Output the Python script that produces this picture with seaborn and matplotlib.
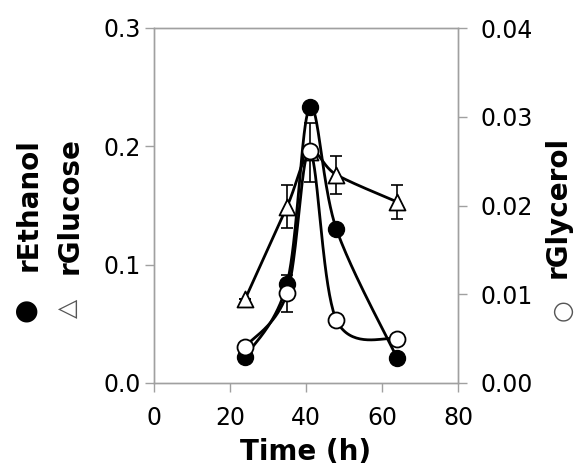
import numpy as np
import pandas as pd
import matplotlib
matplotlib.use("Agg")
import matplotlib.pyplot as plt
import seaborn as sns

# time points (h)
time_h = [24, 35, 41, 48, 64]
# left axis
ethanol = [0.022, 0.084, 0.233, 0.130, 0.021]
glucose = [0.071, 0.149, 0.195, 0.176, 0.153]
glucose_err = [0.0, 0.018, 0.025, 0.016, 0.014]
# right axis
glycerol = [0.0041, 0.0101, 0.0261, 0.0071, 0.0050]
glycerol_err = [0.0, 0.0021, 0.0, 0.0, 0.0]

sns.set_theme(style="ticks")
plt.rcParams["font.family"] = ["DejaVu Sans"]
plt.rcParams["text.color"] = "black"
plt.rcParams["axes.labelcolor"] = "black"

fig = plt.figure(figsize=(5.74, 4.72), dpi=100)
ax = fig.add_axes([154 / 574, 1 - 383 / 472, 304 / 574, 355 / 472])
ax2 = ax.twinx()

XMAX, Y1MAX, Y2MAX = 80, 0.3, 0.04
PX_W, PX_H = 304, 355


def smooth(xs, ys, ymax, n=40):
    # excel-like smoothed line (catmull-rom in screen space)
    p = np.column_stack([np.asarray(xs) / XMAX * PX_W, np.asarray(ys) / ymax * PX_H])
    p = np.vstack([p[0], p, p[-1]])
    out = []
    for i in range(1, len(p) - 2):
        p0, p1, p2, p3 = p[i - 1], p[i], p[i + 1], p[i + 2]
        c1 = p1 + (p2 - p0) / 6
        c2 = p2 - (p3 - p1) / 6
        t = np.linspace(0, 1, n)[:, None]
        seg = (1 - t) ** 3 * p1 + 3 * (1 - t) ** 2 * t * c1 + 3 * (1 - t) * t ** 2 * c2 + t ** 3 * p2
        out.append(seg if i == 1 else seg[1:])
    out = np.vstack(out)
    return out[:, 0] / PX_W * XMAX, out[:, 1] / PX_H * ymax


lw = 2.0
ms = 11.5

# glucose
gx, gy = smooth(time_h, glucose, Y1MAX)
ax.plot(gx, gy, color="black", lw=lw, zorder=2)
ax.errorbar(time_h, glucose, yerr=glucose_err, fmt="none", ecolor="black",
            elinewidth=1.2, capsize=4, capthick=1.2, zorder=3)
sns.scatterplot(x=time_h, y=glucose, ax=ax, marker="^", s=ms ** 2, color="white",
                edgecolor="black", linewidth=1.3, zorder=4, legend=False)

# ethanol
ex, ey = smooth(time_h, ethanol, Y1MAX)
ax.plot(ex, ey, color="black", lw=lw, zorder=2)
sns.scatterplot(x=time_h, y=ethanol, ax=ax, marker="o", s=ms ** 2, color="black",
                edgecolor="black", linewidth=1.0, zorder=5, legend=False)

# glycerol
cx, cy = smooth(time_h, glycerol, Y2MAX)
ax2.plot(cx, cy, color="black", lw=lw, zorder=2)
ax2.errorbar(time_h, glycerol, yerr=glycerol_err, fmt="none", ecolor="black",
             elinewidth=1.2, capsize=4, capthick=1.2, zorder=3)
sns.scatterplot(x=time_h, y=glycerol, ax=ax2, marker="o", s=ms ** 2, color="white",
                edgecolor="black", linewidth=1.3, zorder=4, legend=False)

ax.set_xlim(0, XMAX)
ax.set_ylim(0, Y1MAX)
ax2.set_ylim(0, Y2MAX)
ax.set_xticks([0, 20, 40, 60, 80])
ax.set_yticks([0, 0.1, 0.2, 0.3])
ax.set_yticklabels(["0.0", "0.1", "0.2", "0.3"])
ax2.set_yticks([0, 0.01, 0.02, 0.03, 0.04])
ax2.set_yticklabels(["0.00", "0.01", "0.02", "0.03", "0.04"])

grey = "#a0a0a0"
for a in (ax, ax2):
    for s in a.spines.values():
        s.set_color(grey)
        s.set_linewidth(1.0)
        s.set_visible(True)
ax.tick_params(axis="x", direction="out", length=6.5, width=1.0, color=grey,
               labelsize=17, pad=10, labelcolor="black")
ax.tick_params(axis="y", direction="out", length=6.5, width=1.0, color=grey,
               labelsize=17, pad=3, labelcolor="black")
ax2.tick_params(axis="y", direction="out", length=6.5, width=1.0, color=grey,
                labelsize=17, pad=10, labelcolor="black")

ax.set_xlabel("Time (h)", fontsize=20, fontweight="bold", labelpad=6, color="black")

# y axis titles with symbols
fig.text(29 / 574, 1 - 205 / 472, "rEthanol", rotation=90, fontsize=20,
         fontweight="bold", ha="center", va="center", color="black")
fig.text(70 / 574, 1 - 206 / 472, "rGlucose", rotation=90, fontsize=20,
         fontweight="bold", ha="center", va="center", color="black")
fig.text(558 / 574, 1 - 207 / 472, "rGlycerol", rotation=90, fontsize=20,
         fontweight="bold", ha="center", va="center", color="black")
fig.text(25 / 574, 1 - 310 / 472, "●", rotation=90, fontsize=20,
         ha="center", va="center", color="black")
fig.text(68 / 574, 1 - 308 / 472, "△", rotation=90, fontsize=18, color="#555555",
         ha="center", va="center")
fig.text(562 / 574, 1 - 310 / 472, "○", rotation=90, fontsize=18, color="#555555",
         ha="center", va="center")

fig.savefig("out.png", dpi=100)
